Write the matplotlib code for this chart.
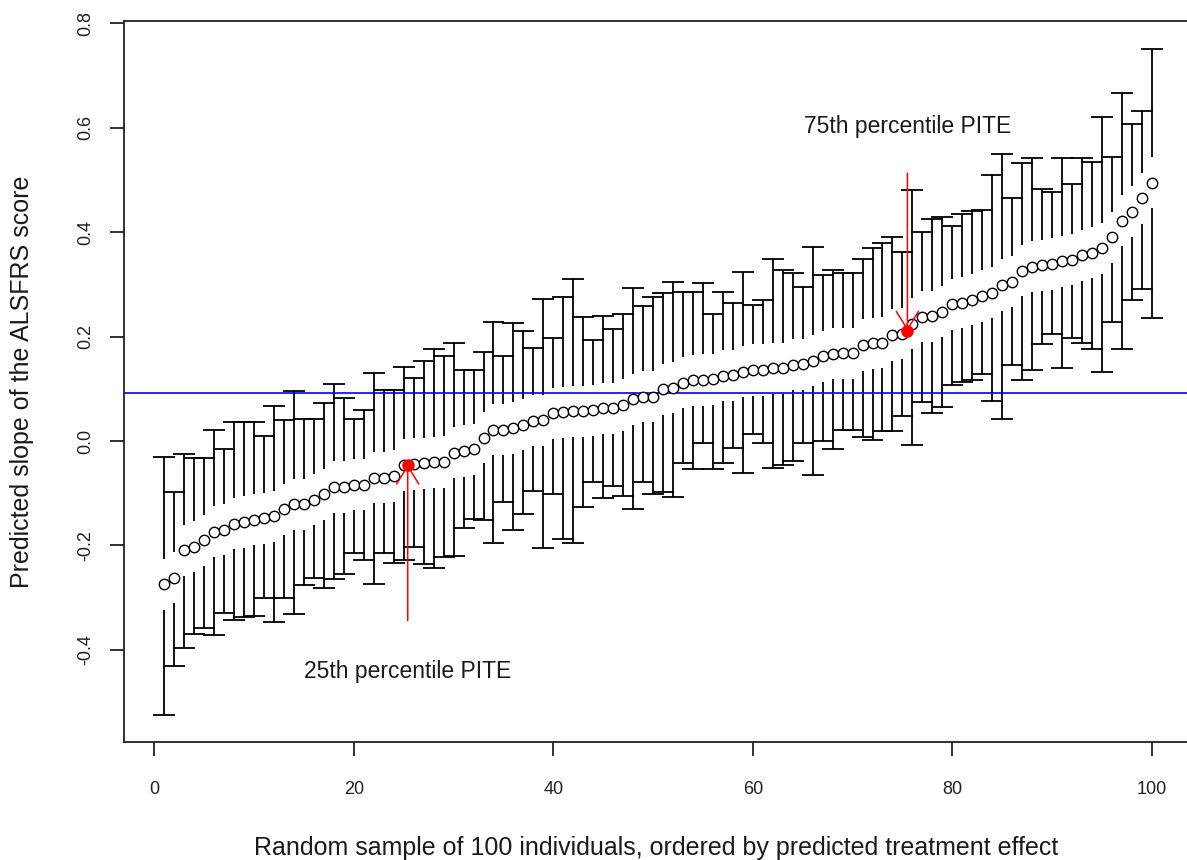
import numpy as np
import matplotlib
matplotlib.use("Agg")
import matplotlib.pyplot as plt

plt.rcParams["font.family"] = ["Liberation Sans", "DejaVu Sans"]

# predicted slope (PITE) per individual, already sorted
pite = [-0.274, -0.262, -0.209, -0.202, -0.190, -0.174, -0.170, -0.158, -0.155, -0.151,
        -0.148, -0.144, -0.131, -0.121, -0.121, -0.112, -0.102, -0.088, -0.088, -0.084,
        -0.084, -0.070, -0.070, -0.067, -0.046, -0.044, -0.043, -0.041, -0.040, -0.022,
        -0.019, -0.016, 0.006, 0.022, 0.022, 0.025, 0.031, 0.039, 0.040, 0.053,
        0.055, 0.057, 0.057, 0.059, 0.063, 0.063, 0.069, 0.080, 0.085, 0.085,
        0.099, 0.102, 0.112, 0.116, 0.117, 0.118, 0.125, 0.126, 0.133, 0.136,
        0.136, 0.139, 0.139, 0.146, 0.147, 0.154, 0.162, 0.167, 0.168, 0.168,
        0.184, 0.187, 0.188, 0.203, 0.206, 0.225, 0.238, 0.239, 0.248, 0.262,
        0.265, 0.271, 0.278, 0.284, 0.299, 0.305, 0.326, 0.334, 0.337, 0.339,
        0.344, 0.347, 0.356, 0.361, 0.369, 0.390, 0.422, 0.439, 0.465, 0.495]

upper = [-0.031, -0.098, -0.024, -0.032, -0.032, 0.022, -0.016, 0.037, 0.037, 0.037,
         0.010, 0.067, 0.040, 0.095, 0.043, 0.043, 0.073, 0.109, 0.083, 0.042,
         0.059, 0.130, 0.098, 0.098, 0.141, 0.120, 0.154, 0.176, 0.162, 0.187,
         0.137, 0.137, 0.171, 0.229, 0.163, 0.227, 0.211, 0.178, 0.273, 0.198,
         0.276, 0.310, 0.238, 0.193, 0.240, 0.215, 0.243, 0.294, 0.259, 0.275,
         0.284, 0.304, 0.286, 0.286, 0.302, 0.243, 0.286, 0.264, 0.324, 0.261,
         0.271, 0.348, 0.328, 0.322, 0.296, 0.372, 0.318, 0.328, 0.322, 0.322,
         0.349, 0.369, 0.379, 0.390, 0.363, 0.480, 0.401, 0.425, 0.430, 0.411,
         0.435, 0.441, 0.443, 0.510, 0.550, 0.465, 0.533, 0.542, 0.482, 0.478,
         0.543, 0.492, 0.542, 0.535, 0.620, 0.545, 0.667, 0.607, 0.632, 0.751]

lower = [-0.525, -0.431, -0.396, -0.370, -0.359, -0.372, -0.330, -0.343, -0.337, -0.335,
         -0.301, -0.346, -0.301, -0.331, -0.276, -0.263, -0.282, -0.265, -0.254, -0.215,
         -0.227, -0.273, -0.215, -0.233, -0.227, -0.202, -0.236, -0.244, -0.222, -0.221,
         -0.167, -0.150, -0.151, -0.195, -0.116, -0.170, -0.139, -0.095, -0.204, -0.102,
         -0.188, -0.196, -0.127, -0.078, -0.110, -0.086, -0.105, -0.131, -0.078, -0.102,
         -0.097, -0.107, -0.043, -0.054, -0.004, -0.054, -0.043, -0.014, -0.061, 0.013,
         -0.004, -0.052, -0.046, -0.038, -0.004, -0.065, 0.001, -0.016, 0.022, 0.022,
         0.008, 0.002, 0.020, 0.020, 0.048, -0.008, 0.075, 0.054, 0.066, 0.107,
         0.114, 0.116, 0.128, 0.077, 0.043, 0.146, 0.116, 0.136, 0.186, 0.205,
         0.139, 0.197, 0.187, 0.176, 0.133, 0.229, 0.176, 0.270, 0.291, 0.235]

ref_line = 0.092          # blue horizontal reference
p25 = (25.4, -0.045)      # 25th percentile PITE
p75 = (75.5, 0.211)       # 75th percentile PITE
arrow_start = {"25": -0.344, "75": 0.513}
text_y = {"25": -0.453, "75": 0.591}

pite = np.array(pite)
upper = np.array(upper)
lower = np.array(lower)
idx = np.arange(1, len(pite) + 1)

GAP = 0.049     # bars stop short of the points
CAP = 1.1       # half width of the caps in x units
LW = 1.3

fig = plt.figure(figsize=(11.87, 8.60), dpi=100)
ax = fig.add_axes([0.1045, 0.1369, 0.8991, 0.8383])

ax.vlines(idx, pite + GAP, upper, color="black", lw=LW)
ax.vlines(idx, lower, pite - GAP, color="black", lw=LW)
ax.hlines(upper, idx - CAP, idx + CAP, color="black", lw=LW)
ax.hlines(lower, idx - CAP, idx + CAP, color="black", lw=LW)
ax.plot(idx, pite, "o", mfc="white", mec="black", ms=7.5, mew=1.0, zorder=3)

ax.axhline(ref_line, color="blue", lw=1.2)

ax.plot([p25[0], p75[0]], [p25[1], p75[1]], "o", color="red", ms=8, zorder=4)
aprops = dict(arrowstyle="->,head_length=1.3,head_width=0.8", color="red", lw=1.1,
              shrinkA=0, shrinkB=0)
ax.annotate("", xy=p75, xytext=(p75[0], arrow_start["75"]), arrowprops=aprops)
ax.annotate("", xy=p25, xytext=(p25[0], arrow_start["25"]), arrowprops=aprops)
ax.text(p75[0], text_y["75"], "75th percentile PITE", ha="center", va="baseline",
        fontsize=16.5, color="#1a1a1a")
ax.text(p25[0], text_y["25"], "25th percentile PITE", ha="center", va="baseline",
        fontsize=16.5, color="#1a1a1a")

ax.set_xlim(-3.04, 103.96)
ax.set_ylim(-0.577, 0.804)
ax.set_xticks([0, 20, 40, 60, 80, 100])
yt = [-0.4, -0.2, 0.0, 0.2, 0.4, 0.6, 0.8]
ax.set_yticks(yt)
ax.set_yticklabels([f"{v:.1f}" for v in yt], rotation=90, va="center")
ax.tick_params(axis="both", direction="out", length=10, width=LW, labelsize=13,
               colors="#222222")
ax.tick_params(axis="x", pad=18)
ax.tick_params(axis="y", pad=11.5)
for s in ["top", "left", "bottom", "right"]:
    ax.spines[s].set_linewidth(LW)
    ax.spines[s].set_color("#222222")

fig.text(0.5525, 0.0058, "Random sample of 100 individuals, ordered by predicted treatment effect",
         ha="center", va="baseline", fontsize=18, color="#1a1a1a")
fig.text(0.0185, 0.5558, "Predicted slope of the ALSFRS score", rotation=90,
         ha="center", va="center", fontsize=18, color="#1a1a1a")

fig.savefig("out.png", dpi=100)
